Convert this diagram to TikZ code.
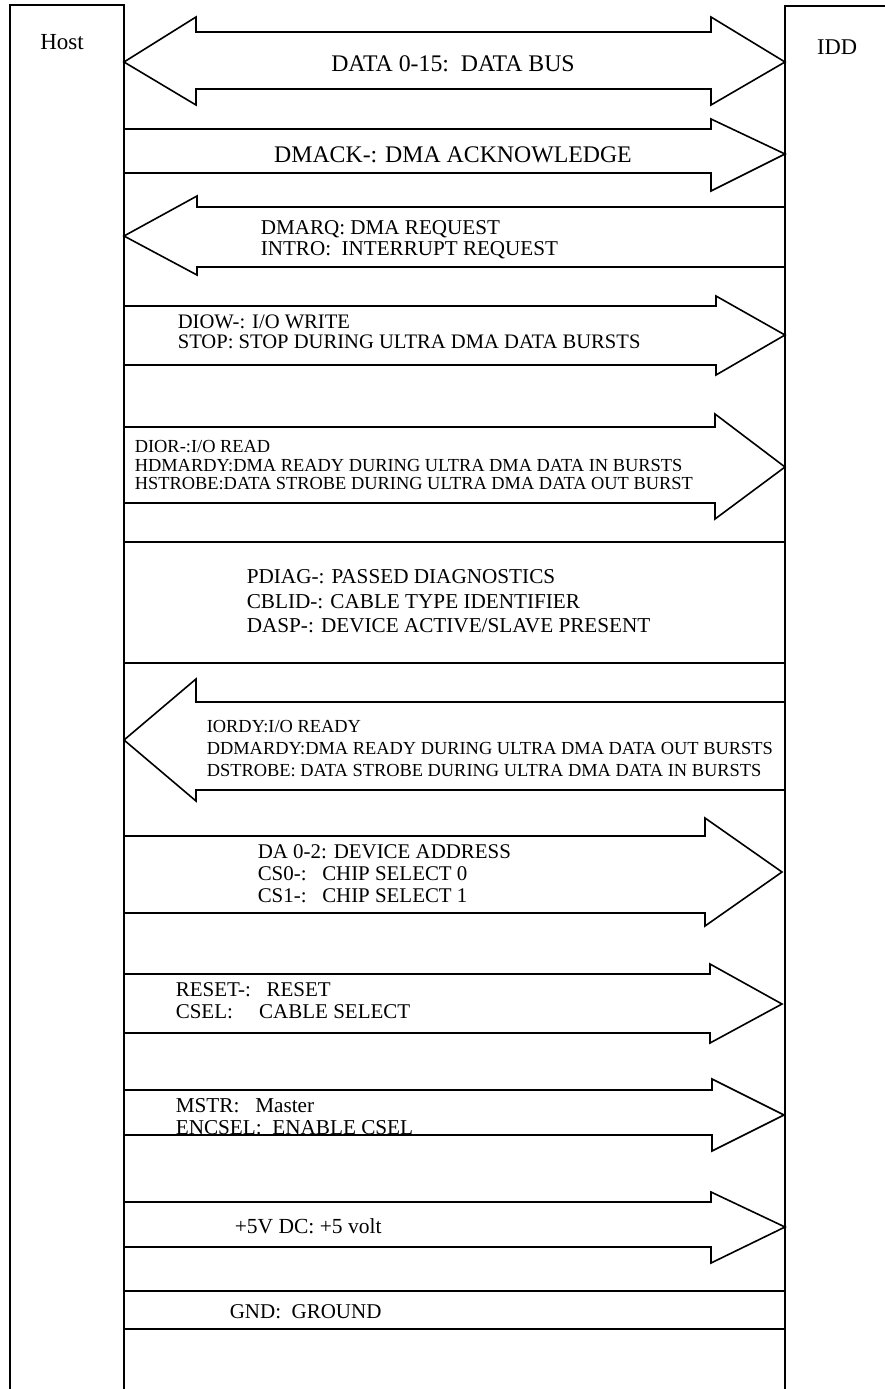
\documentclass[tikz,border=0pt]{standalone}
\usepackage{fontspec}
\setmainfont{Liberation Serif}
\begin{document}
\begin{tikzpicture}[x=1pt,y=-1pt,line width=1.6pt,line join=miter,
  lbl/.style={inner sep=0pt,align=left,anchor=north west},
  one/.style={inner sep=0pt},
  sig/.style={draw=black,line width=1.6pt}]
\useasboundingbox (0,0) rectangle (884,1389);
% Host and IDD boxes (open at the bottom)
\draw[sig] (10,1389) -- (10,5) -- (124,5) -- (124,1389);
\draw[sig] (785,1389) -- (785,6) -- (886,6);
\node[one,anchor=base,font=\fontsize{23}{26}\selectfont] (host) at (62,49) {Host};
\node[one,anchor=base,font=\fontsize{22.5}{26}\selectfont] (idd) at (837,55) {IDD};
% DATA bus double arrow
\draw[sig] (124,62) -- (196,17) -- (196,32) -- (711,32) -- (711,17) -- (785,62)
  -- (711,105) -- (711,89) -- (196,89) -- (196,105) -- cycle;
\node[one,anchor=base,font=\fontsize{23.8}{26}\selectfont] (data) at (453,71) {DATA 0-15:~~DATA BUS};
% DMACK
\draw[sig] (124,129) -- (711,129) -- (711,119) -- (785,154) -- (711,191) -- (711,173) -- (124,173);
\node[one,anchor=base,font=\fontsize{23.8}{26}\selectfont] (dmack) at (453,162) {DMACK-: DMA ACKNOWLEDGE};
% DMARQ
\draw[sig] (785,207) -- (197,207) -- (197,196) -- (124,236) -- (197,275) -- (197,267) -- (785,267);
\node[lbl,font=\fontsize{21.1}{21}\selectfont] (dmarq) at (260,220) {DMARQ: DMA REQUEST\\INTRO:~~INTERRUPT REQUEST};
% DIOW
\draw[sig] (124,306) -- (716,306) -- (716,296) -- (785,335) -- (716,375) -- (716,365) -- (124,365);
\node[lbl,font=\fontsize{20.6}{20}\selectfont] (diow) at (177,314) {DIOW-: I/O WRITE\\STOP: STOP DURING ULTRA DMA DATA BURSTS};
% DIOR
\draw[sig] (124,427) -- (715,427) -- (715,414) -- (785,467) -- (715,519) -- (715,503) -- (124,503);
\node[lbl,font=\fontsize{18.4}{18.5}\selectfont] (dior) at (134,440) {DIOR-:I/O READ\\HDMARDY:DMA READY DURING ULTRA DMA DATA IN BURSTS\\HSTROBE:DATA STROBE DURING ULTRA DMA DATA OUT BURST};
% PDIAG band
\draw[sig] (124,542) -- (785,542);
\node[lbl,font=\fontsize{21.2}{24.5}\selectfont] (pdiag) at (246,569) {PDIAG-: PASSED DIAGNOSTICS\\CBLID-: CABLE TYPE IDENTIFIER\\DASP-: DEVICE ACTIVE/SLAVE PRESENT};
\draw[sig] (124,663) -- (785,663);
% IORDY
\draw[sig] (785,702) -- (196,702) -- (196,679) -- (124,740) -- (196,801) -- (196,790) -- (785,790);
\node[lbl,font=\fontsize{18.4}{22}\selectfont] (iordy) at (206,720) {IORDY:I/O READY\\DDMARDY:DMA READY DURING ULTRA DMA DATA OUT BURSTS\\DSTROBE: DATA STROBE DURING ULTRA DMA DATA IN BURSTS};
% DA
\draw[sig] (124,836) -- (705,836) -- (705,818) -- (782,872) -- (705,926) -- (705,913) -- (124,913);
\node[lbl,font=\fontsize{20.9}{21.8}\selectfont] (da) at (257,844) {DA 0-2: DEVICE ADDRESS\\CS0-:~~~CHIP SELECT 0\\CS1-:~~~CHIP SELECT 1};
% RESET
\draw[sig] (124,974) -- (710,974) -- (710,964) -- (782,1004) -- (710,1043) -- (710,1033) -- (124,1033);
\node[lbl,font=\fontsize{21}{22}\selectfont] (reset) at (175,982) {RESET-:~~~RESET\\CSEL:~~~~~CABLE SELECT};
% MSTR
\draw[sig] (124,1090) -- (712,1090) -- (712,1079) -- (784,1115) -- (712,1151) -- (712,1135) -- (124,1135);
\node[lbl,font=\fontsize{21.2}{22}\selectfont] (mstr) at (175,1098) {MSTR:~~~Master\\ENCSEL:~~ENABLE CSEL};
% +5V
\draw[sig] (124,1202) -- (711,1202) -- (711,1192) -- (785,1227) -- (711,1263) -- (711,1247) -- (124,1247);
\node[one,anchor=base west,font=\fontsize{21.5}{22}\selectfont] (pfive) at (234,1233) {+5V DC: +5 volt};
% GND
\draw[sig] (124,1291) -- (785,1291);
\draw[sig] (124,1329) -- (785,1329);
\node[one,anchor=base west,font=\fontsize{21}{22}\selectfont] (gnd) at (229,1318) {GND:~~GROUND};
\end{tikzpicture}
\end{document}
